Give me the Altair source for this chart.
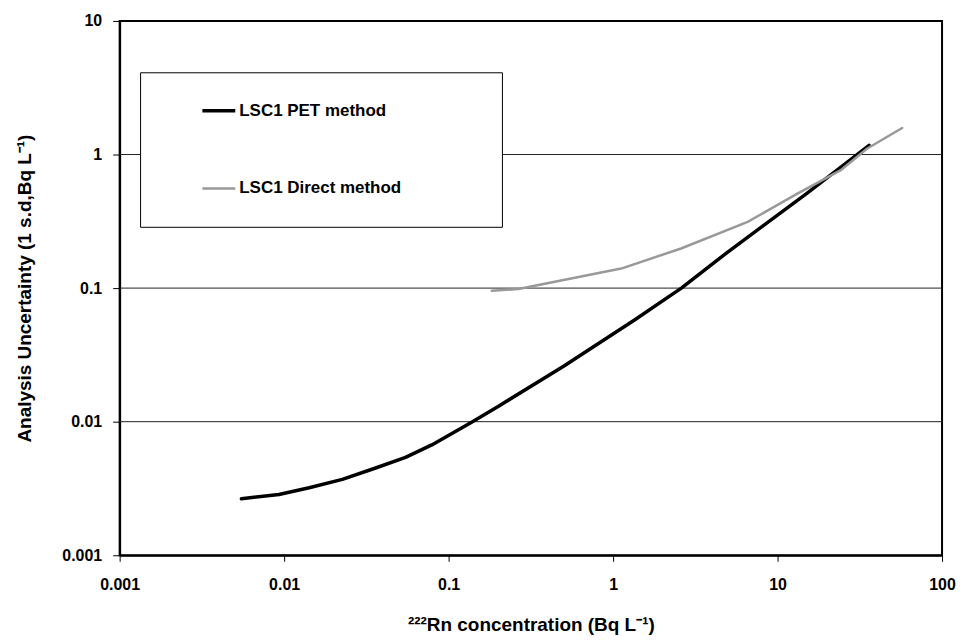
import altair as alt
import pandas as pd

# PET method (black)
pet_x = [0.0055, 0.0093, 0.0142, 0.0226, 0.036, 0.0547, 0.079, 0.138, 0.20, 0.5, 1.35, 2.6, 5.0, 15.0, 36.0]
pet_y = [0.00265, 0.00285, 0.0032, 0.0037, 0.0045, 0.0054, 0.0067, 0.0099, 0.013, 0.026, 0.0577, 0.10, 0.187, 0.51, 1.17]

# Direct method (grey)
dir_x = [0.183, 0.266, 1.12, 2.59, 6.58, 13.2, 24.1, 35.1, 57.2]
dir_y = [0.0955, 0.0984, 0.140, 0.198, 0.313, 0.509, 0.760, 1.11, 1.58]

x_ticks = [0.001, 0.01, 0.1, 1, 10, 100]
y_ticks = [0.001, 0.01, 0.1, 1, 10]
grid_vals = [0.01, 0.1, 1]

series_names = ["LSC1 PET method", "LSC1 Direct method"]
series_colors = ["#000000", "#999999"]
series_widths = [3.5, 2.5]

df = pd.concat([
    pd.DataFrame({"x": pet_x, "y": pet_y, "s": series_names[0], "o": range(len(pet_x))}),
    pd.DataFrame({"x": dir_x, "y": dir_y, "s": series_names[1], "o": range(len(dir_x))}),
])
grid_df = pd.DataFrame({"g": grid_vals})

FONT = "Liberation Sans"

xscale = alt.Scale(type="log", domain=[0.001, 100])
yscale = alt.Scale(type="log", domain=[0.001, 10])

xaxis = alt.Axis(values=x_ticks, format="~g", title="²²²Rn concentration (Bq L⁻¹)",
                 grid=False, tickSize=6, tickColor="black", tickWidth=1,
                 domainColor="black", domainWidth=2,
                 labelFont=FONT, labelFontWeight="bold", labelFontSize=16, labelColor="black",
                 labelPadding=15, labelFlush=False,
                 titleFont=FONT, titleFontWeight="bold", titleFontSize=19, titleColor="black",
                 titlePadding=23)
yaxis = alt.Axis(values=y_ticks, format="~g", title="Analysis Uncertainty (1 s.d,Bq L⁻¹)",
                 grid=False, tickSize=7, tickColor="black", tickWidth=1,
                 domainColor="black", domainWidth=2,
                 labelFont=FONT, labelFontWeight="bold", labelFontSize=16, labelColor="black",
                 labelPadding=11, labelFlush=False,
                 titleFont=FONT, titleFontWeight="bold", titleFontSize=19, titleColor="black",
                 titlePadding=27)

grid = alt.Chart(grid_df).mark_rule(color="#222222", strokeWidth=1).encode(
    y=alt.Y("g:Q", scale=yscale, axis=yaxis)
)

lines = alt.Chart(df).mark_line(strokeCap="round", strokeJoin="round").encode(
    x=alt.X("x:Q", scale=xscale, axis=xaxis),
    y=alt.Y("y:Q", scale=yscale, axis=yaxis),
    color=alt.Color("s:N", scale=alt.Scale(domain=series_names, range=series_colors), legend=None),
    strokeWidth=alt.StrokeWidth("s:N", scale=alt.Scale(domain=series_names, range=series_widths), legend=None),
    order="o:Q",
    detail="s:N",
)

# Legend box (manual)
leg_box = alt.Chart(pd.DataFrame({"a": [0]})).mark_rect(fill="white", stroke="black", strokeWidth=1).encode(
    x=alt.value(21), x2=alt.value(384), y=alt.value(52), y2=alt.value(207)
)
leg_df = pd.DataFrame({"s": series_names, "c": series_colors, "w": series_widths,
                       "ly": [90, 168]})
leg_lines = alt.Chart(leg_df).mark_rule().encode(
    x=alt.value(83), x2=alt.value(116),
    y=alt.Y("ly:Q", scale=None),
    color=alt.Color("c:N", scale=None),
    strokeWidth=alt.StrokeWidth("w:Q", scale=None),
)
leg_text = alt.Chart(leg_df).mark_text(align="left", baseline="middle", font=FONT,
                                       fontWeight="bold", fontSize=17, color="black").encode(
    x=alt.value(120), y=alt.Y("ly:Q", scale=None), text="s:N"
)

chart = alt.layer(grid, lines, leg_box, leg_lines, leg_text).properties(
    width=825, height=536,
    autosize=alt.AutoSizeParams(type="none"),
    padding={"left": 112, "top": 12, "right": 15, "bottom": 79},
    background="white",
).configure_view(stroke="black", strokeWidth=2)

chart.save("out.html", embed_options={"renderer": "svg", "actions": False})
